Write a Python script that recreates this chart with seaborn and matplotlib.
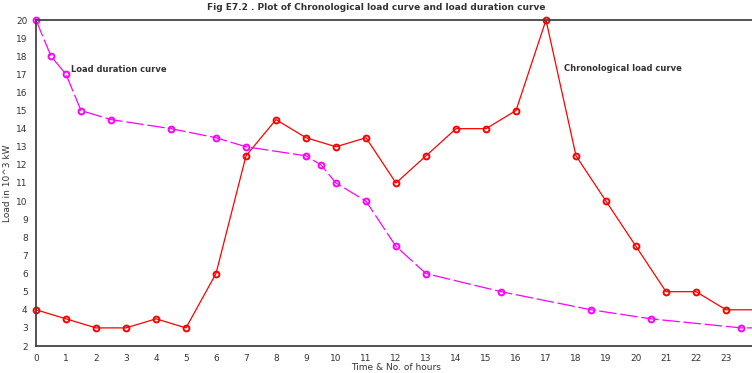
import matplotlib
matplotlib.use("Agg")
import matplotlib.pyplot as plt
import seaborn as sns
import pandas as pd
from matplotlib.ticker import MultipleLocator

# Chronological load curve
chrono_hours = [0, 1, 2, 3, 4, 5, 6, 7, 8, 9, 10, 11, 12, 13, 14, 15, 16, 17, 18, 19, 20, 21, 22, 23, 24]
chrono_load = [4, 3.5, 3, 3, 3.5, 3, 6, 12.5, 14.5, 13.5, 13, 13.5, 11, 12.5, 14, 14, 15, 20, 12.5, 10, 7.5, 5, 5, 4, 4]

# Load duration curve
dur_hours = [0, 0.5, 1, 1.5, 2.5, 4.5, 6, 7, 9, 9.5, 10, 11, 12, 13, 15.5, 18.5, 20.5, 23.5, 24]
dur_load = [20, 18, 17, 15, 14.5, 14, 13.5, 13, 12.5, 12, 11, 10, 7.5, 6, 5, 4, 3.5, 3, 3]

title = "Fig E7.2 . Plot of Chronological load curve and load duration curve"
xlabel = "Time & No. of hours"
ylabel = "Load in 10^3 kW"

sns.set_style("white")
plt.rcParams['font.family'] = ['DejaVu Sans']

fig = plt.figure(figsize=(7.52, 3.73), dpi=100)
ax = fig.add_axes([36/752, 1 - 346/373, 720/752, 326/373])

df_c = pd.DataFrame({"h": chrono_hours, "load": chrono_load})
df_d = pd.DataFrame({"h": dur_hours, "load": dur_load})

sns.lineplot(data=df_c, x="h", y="load", ax=ax, sort=False, color="#ff0000",
             linewidth=0.9, marker="o", markersize=4.2, markerfacecolor="none",
             markeredgecolor="#ff0000", markeredgewidth=1.4, clip_on=False)
sns.lineplot(data=df_d, x="h", y="load", ax=ax, sort=False, color="#ff00ff",
             linewidth=0.9, linestyle=(0, (14, 3)), marker="o", markersize=4.2,
             markerfacecolor="none", markeredgecolor="#ff00ff", markeredgewidth=1.4,
             clip_on=False)

ax.set_xlim(0, 24)
ax.set_ylim(2, 20)
ax.xaxis.set_major_locator(MultipleLocator(1))
ax.xaxis.set_minor_locator(MultipleLocator(0.5))
ax.yaxis.set_major_locator(MultipleLocator(1))
ax.yaxis.set_minor_locator(MultipleLocator(0.5))
ax.tick_params(axis="both", which="major", direction="out", length=4, width=1,
               color="#444444", labelsize=6.5, labelcolor="#333333", pad=2)
ax.tick_params(axis="both", which="minor", direction="out", length=2, width=1,
               color="#444444")
ax.set_xticks(range(0, 24))

for s in ["left", "bottom", "top", "right"]:
    ax.spines[s].set_color("#444444")
    ax.spines[s].set_linewidth(1.3)

ax.set_xlabel(xlabel, fontsize=6.5, color="#333333", labelpad=0)
ax.set_ylabel(ylabel, fontsize=6.5, color="#333333", labelpad=3)
fig.text(0.5, 1 - 8/373, title, ha="center", va="center", fontsize=6.5,
         color="#333333", fontweight="bold")

ax.text(1.17, 17.25, "Load duration curve", fontsize=6, color="#333333",
        va="center", ha="left", fontweight="bold")
ax.text(17.6, 17.3, "Chronological load curve", fontsize=6, color="#333333",
        va="center", ha="left", fontweight="bold")

fig.savefig("out.png", dpi=100)
